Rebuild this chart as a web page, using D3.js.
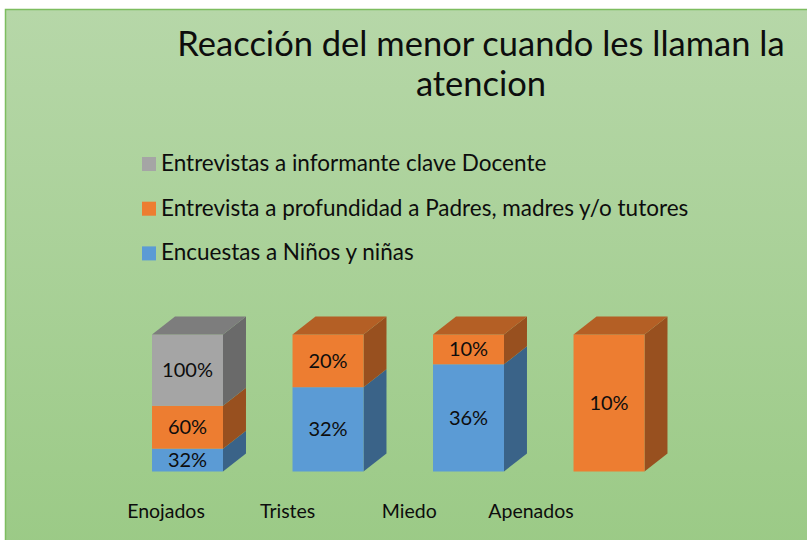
<!DOCTYPE html>
<html>
<head>
<meta charset="utf-8">
<script src="https://cdn.jsdelivr.net/npm/d3@7"></script>
<style>
  body { margin: 0; background: #fff; }
  svg { display: block; font-family: Lato, "Open Sans", sans-serif; }
</style>
</head>
<body>
<div id="chart"></div>
<script>
// chart data
const categories = ["Enojados", "Tristes", "Miedo", "Apenados"];
const seriesNames = [
    "Encuestas a Niños y niñas",
    "Entrevista a profundidad a Padres, madres y/o tutores",
    "Entrevistas a informante clave Docente"
];
const ninos = [32, 32, 36, 0];
const padres = [60, 20, 10, 10];
const docente = [100, 0, 0, 0];

const colors = ["#5b9bd5", "#ed7d31", "#a5a5a5"];

function draw_chart() {
    const W = 807, H = 540;
    const svg = d3.select("#chart").append("svg")
        .attr("width", W).attr("height", H);

    // green gradient background
    const grad = svg.append("defs").append("linearGradient")
        .attr("id", "bg").attr("x1", 0).attr("y1", 0).attr("x2", 0).attr("y2", 1);
    grad.append("stop").attr("offset", "0%").attr("stop-color", "#b6d7a8");
    grad.append("stop").attr("offset", "100%").attr("stop-color", "#9bca86");

    svg.append("rect")
        .attr("x", 5.5).attr("y", 9.5)
        .attr("width", W).attr("height", H)
        .attr("fill", "url(#bg)")
        .attr("stroke", "#7dbd5f")
        .attr("stroke-width", 1.5);

    // title
    const title = svg.append("text")
        .attr("text-anchor", "middle")
        .style("font-size", "34.5px")
        .style("fill", "#0d0d0d");
    title.append("tspan").attr("x", 481).attr("y", 56).text("Reacción del menor cuando les llaman la");
    title.append("tspan").attr("x", 481).attr("y", 96).text("atencion");

    // legend (reverse order like the original)
    const legendItems = seriesNames.map((name, i) => ({ name, color: colors[i] })).reverse();
    const legend = svg.append("g").attr("transform", "translate(142, 157)");
    legendItems.forEach((d, i) => {
        const g = legend.append("g").attr("transform", `translate(0, ${i * 44.7})`);
        g.append("rect").attr("width", 14).attr("height", 14).attr("fill", d.color);
        g.append("text")
            .attr("x", 19).attr("y", 14)
            .style("font-size", "22.5px")
            .style("fill", "#0d0d0d")
            .text(d.name);
    });

    // 100% stacked data
    const rows = categories.map((c, i) => ({ cat: c, s0: ninos[i], s1: padres[i], s2: docente[i] }));
    const stack = d3.stack().keys(["s0", "s1", "s2"]).offset(d3.stackOffsetExpand);
    const layers = stack(rows);

    const x = d3.scaleBand().domain(categories)
        .range([116.9, 679.6]).paddingInner(0.495).paddingOuter(0.25);
    const y = d3.scaleLinear().domain([0, 1]).range([471.5, 334.5]);
    const dx = 23, dy = -18;

    const shade = (c, k) => { const r = d3.rgb(c); return d3.rgb(r.r * k, r.g * k, r.b * k).formatHex(); };

    const bars = svg.append("g");
    categories.forEach((cat, ci) => {
        const x0 = x(cat), x1 = x0 + x.bandwidth();
        const segs = layers.map((L, si) => ({ si, lo: L[ci][0], hi: L[ci][1], v: L[ci].data[L.key] }))
            .filter(s => s.hi - s.lo > 0);
        segs.forEach((s, k) => {
            const yl = y(s.lo), yh = y(s.hi);
            const col = colors[s.si];
            // side face
            bars.append("polygon")
                .attr("points", [[x1, yl], [x1 + dx, yl + dy], [x1 + dx, yh + dy], [x1, yh]].join(" "))
                .attr("fill", shade(col, 0.64));
            // front face
            bars.append("rect")
                .attr("x", x0).attr("y", yh)
                .attr("width", x1 - x0).attr("height", yl - yh)
                .attr("fill", col);
            // top face for the highest segment
            if (k === segs.length - 1) {
                bars.append("polygon")
                    .attr("points", [[x0, yh], [x0 + dx, yh + dy], [x1 + dx, yh + dy], [x1, yh]].join(" "))
                    .attr("fill", shade(col, 0.76));
            }
            bars.append("text")
                .attr("x", (x0 + x1) / 2)
                .attr("y", (yl + yh) / 2)
                .attr("dy", "0.35em")
                .attr("text-anchor", "middle")
                .style("font-size", "20px")
                .style("fill", "#0d0d0d")
                .text(s.v + "%");
        });
    });

    // category labels sit on the perspective floor, so they use their own scale
    const xLab = d3.scalePoint().domain(categories).range([166, 531]);
    svg.append("g").selectAll("text")
        .data(categories).join("text")
        .attr("x", d => xLab(d))
        .attr("y", 518)
        .attr("text-anchor", "middle")
        .style("font-size", "19.5px")
        .style("fill", "#0d0d0d")
        .text(d => d);
}

draw_chart();
</script>
</body>
</html>
